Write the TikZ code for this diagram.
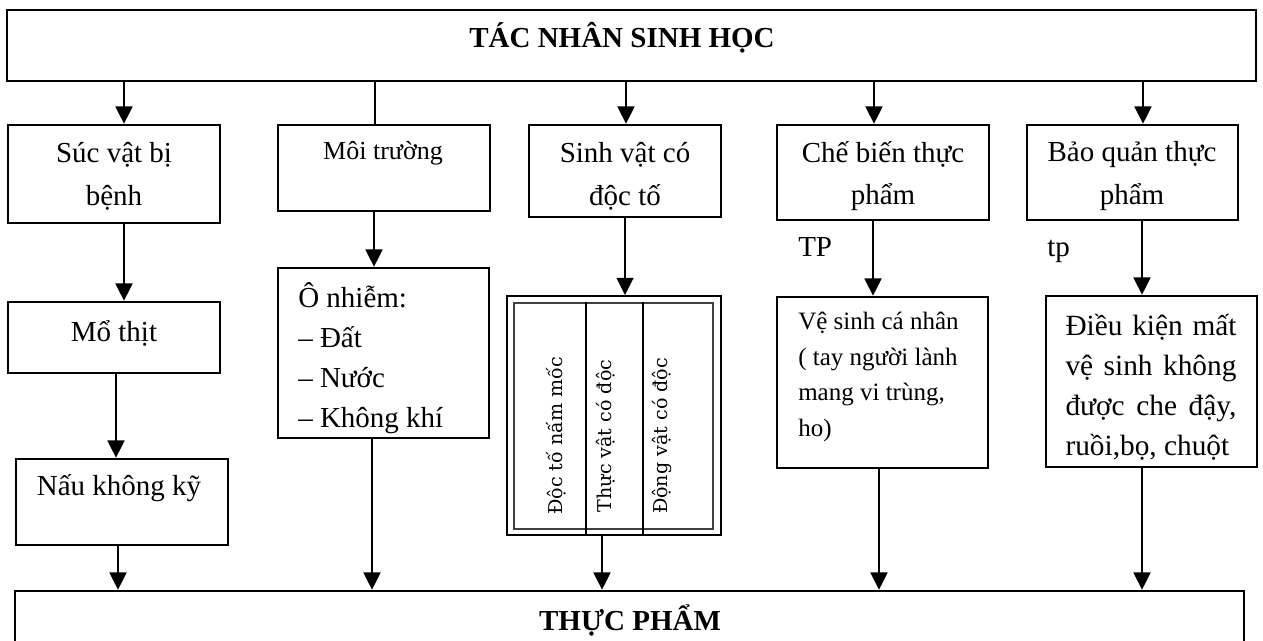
\documentclass[tikz,border=0pt]{standalone}
\usepackage{fontspec}
\setmainfont{Liberation Serif}
\newfontfamily\rotfont{DejaVu Serif}
\usetikzlibrary{arrows.meta,fit}
\hyphenpenalty=10000
\exhyphenpenalty=10000
\begin{document}
\begin{tikzpicture}[x=0.75pt,y=-0.75pt,
  box/.style={draw,line width=1.8pt,inner sep=0pt},
  conn/.style={line width=2.1pt},
  arr/.style={conn,-{Triangle[width=12.5pt,length=13pt]}},
  txt/.style={font=\fontsize{21.75pt}{32pt}\selectfont,inner sep=0pt,align=center},
  rot/.style={rotate=90,inner sep=0pt,font=\rotfont\fontsize{14.3pt}{16pt}\selectfont}
]
\useasboundingbox (0,0) rectangle (1263,641);
\clip (0,0) rectangle (1263,641);
\fill[white] (0,0) rectangle (1263,641);

% boxes
\node[box,fit={(7,10) (1256,81)}] (top) {};
\node[txt,font=\bfseries\fontsize{21.75pt}{32pt}\selectfont,anchor=base] (topt) at (622,48) {TÁC NHÂN SINH HỌC};

\node[box,fit={(8,125) (220,223)}] (A) {};
\node[txt] (At) at (114,176) {Súc vật bị\\bệnh};
\node[box,fit={(278,125) (490,211)}] (B) {};
\node[txt,font=\fontsize{19.5pt}{24pt}\selectfont] (Bt) at (383,153) {Môi trường};
\node[box,fit={(529,125) (721,217)}] (C) {};
\node[txt] (Ct) at (625,176) {Sinh vật có\\độc tố};
\node[box,fit={(777,125) (989,220)}] (D) {};
\node[txt] (Dt) at (883,176) {Chế biến thực\\phẩm};
\node[box,fit={(1027,125) (1238,220)}] (E) {};
\node[txt] (Et) at (1132,176) {Bảo quản thực\\phẩm};

\node[box,fit={(8,302) (220,373)}] (M) {};
\node[txt] (Mt) at (114,333) {Mổ thịt};
\node[box,fit={(16,459) (228,545)}] (N) {};
\node[txt] (Nt) at (119,488) {Nấu không kỹ};

\node[box,fit={(278,268) (489,438)}] (O) {};
\node[txt,font=\fontsize{21.75pt}{30pt}\selectfont,align=left,anchor=west] (Ot) at (298,358) {Ô nhiễm:\\– Đất\\– Nước\\– Không khí};

\node[draw,line width=1.3pt,inner sep=0pt,fit={(507,296) (721,535)}] (S) {};
\node[draw,line width=1pt,draw=black!75,inner sep=0pt,fit={(514,303) (713,529)}] (Si) {};
\coordinate (d1) at (586,0);
\coordinate (d2) at (643,0);
\draw[line width=1.3pt] (Si.north -| d1) -- (S.south -| d1);
\draw[line width=1.3pt] (Si.north -| d2) -- (S.south -| d2);
\node[rot] (r1) at (556,436) {Độc tố nấm mốc};
\node[rot] (r2) at (606,436) {Thực vật có độc};
\node[rot] (r3) at (662,436) {Động vật có độc};

\node[box,fit={(777,297) (988,468)}] (V) {};
\node[txt,font=\fontsize{18.75pt}{26.8pt}\selectfont,align=left,anchor=west] (Vt) at (798,377) {Vệ sinh cá nhân\\( tay người lành\\mang vi trùng,\\ho)};

\node[box,fit={(1046,296) (1257,467)}] (K) {};
\node[txt,font=\fontsize{22pt}{30pt}\selectfont,text width=128.25pt,align=justify] (Kt) at (1151,387) {Điều kiện mất vệ sinh không được che đậy, ruồi,bọ, chuột};

\node[txt,anchor=base west] (tp1) at (798,257) {TP};
\node[txt,anchor=base west] (tp2) at (1047,257) {tp};

\node[box,fit={(15,591) (1244,700)}] (F) {};
\node[txt,font=\bfseries\fontsize{21.75pt}{32pt}\selectfont,anchor=base] (Ft) at (630,630) {THỰC PHẨM};

% connector x positions
\coordinate (x1) at (124,0);
\coordinate (x2) at (375,0);
\coordinate (x3) at (626,0);
\coordinate (x4) at (874,0);
\coordinate (x5) at (1143,0);
\coordinate (xm) at (116,0);
\coordinate (xn) at (118,0);
\coordinate (xo) at (374,0);
\coordinate (xo2) at (372,0);
\coordinate (xc) at (625,0);
\coordinate (xs) at (602,0);
\coordinate (xd) at (873,0);
\coordinate (xv) at (879,0);
\coordinate (xe) at (1142,0);

\draw[arr] (top.south -| x1) -- (A.north -| x1);
\draw[conn] (top.south -| x2) -- (B.north -| x2);
\draw[arr] (top.south -| x3) -- (C.north -| x3);
\draw[arr] (top.south -| x4) -- (D.north -| x4);
\draw[arr] (top.south -| x5) -- (E.north -| x5);

\draw[arr] (A.south -| x1) -- (M.north -| x1);
\draw[arr] (M.south -| xm) -- (N.north -| xm);
\draw[arr] (N.south -| xn) -- (F.north -| xn);

\draw[arr] (B.south -| xo) -- (O.north -| xo);
\draw[arr] (O.south -| xo2) -- (F.north -| xo2);

\draw[arr] (C.south -| xc) -- (S.north -| xc);
\draw[arr] (S.south -| xs) -- (F.north -| xs);

\draw[arr] (D.south -| xd) -- (V.north -| xd);
\draw[arr] (V.south -| xv) -- (F.north -| xv);

\draw[arr] (E.south -| xe) -- (K.north -| xe);
\draw[arr] (K.south -| xe) -- (F.north -| xe);
\end{tikzpicture}
\end{document}
